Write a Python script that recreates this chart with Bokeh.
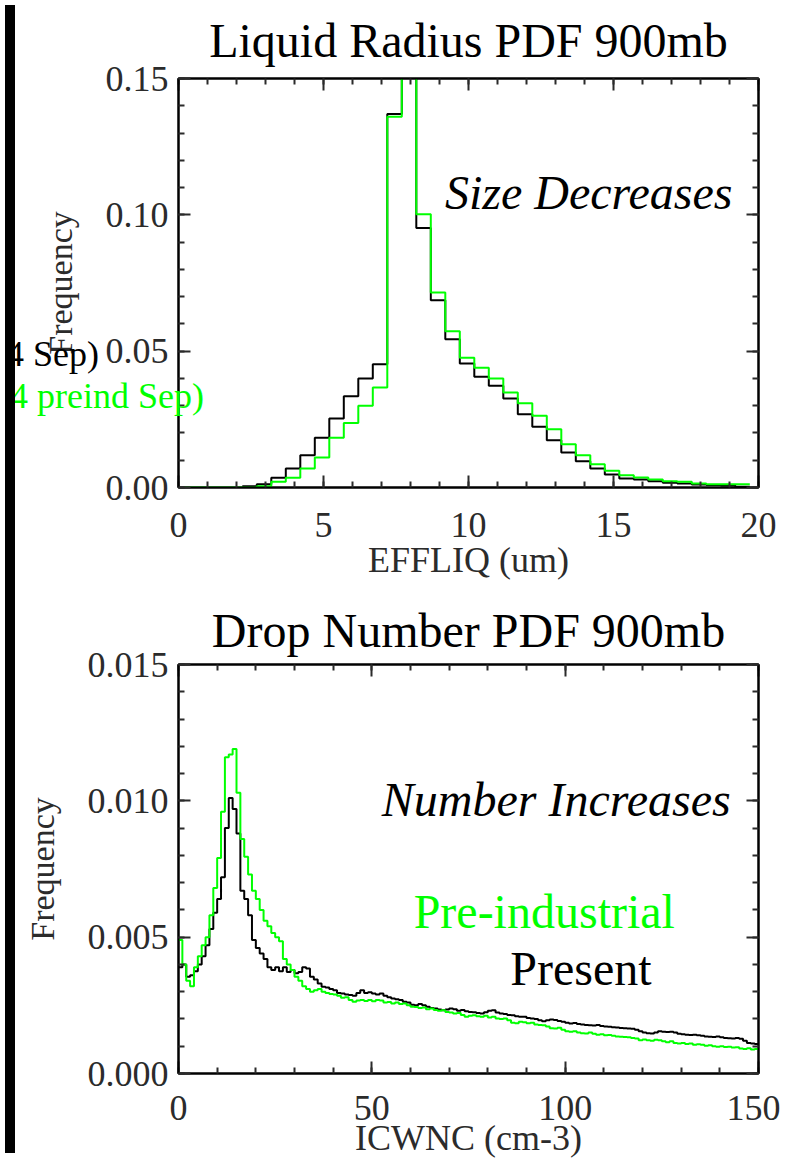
import math
from bokeh.plotting import figure
from bokeh.models import (Range1d, LinearAxis, SingleIntervalTicker, PrintfTickFormatter,
                          CustomJSTickFormatter, Label, Div)
from bokeh.layouts import row, column
from bokeh.embed import file_html
from bokeh.resources import INLINE

NaN = float("nan")

# ---------------- data: Liquid Radius PDF 900mb ----------------
effliq_edges = [0.2, 0.7, 1.2, 1.7, 2.2, 2.7, 3.2, 3.7, 4.2, 4.7, 5.2, 5.7, 6.2, 6.7,
                7.2, 7.7, 8.2, 8.7, 9.2, 9.7, 10.2, 10.7, 11.2, 11.7, 12.2, 12.7, 13.2,
                13.7, 14.2, 14.7, 15.2, 15.7, 16.2, 16.7, 17.2, 17.7, 18.2, 18.7, 19.2, 19.7]
effliq_present = [NaN, NaN, NaN, NaN, 0.0005, 0.0012, 0.0036, 0.0070, 0.0118, 0.0182,
                  0.0253, 0.0335, 0.0400, 0.0452, 0.1370, 0.2100, 0.0952, 0.0687, 0.0544,
                  0.0455, 0.0406, 0.0373, 0.0326, 0.0269, 0.0223, 0.0173, 0.0128, 0.0096,
                  0.0070, 0.0048, 0.0033, 0.0029, 0.0023, 0.0017, 0.0015, 0.0011, 0.0009,
                  0.0007, 0.0003]
effliq_preind = [0.0, 0.0, 0.0, 0.0, 0.0, 0.0005, 0.0021, 0.0036, 0.0070, 0.0110,
                 0.0182, 0.0237, 0.0300, 0.0367, 0.1360, 0.2300, 0.1002, 0.0715, 0.0573,
                 0.0476, 0.0439, 0.0400, 0.0348, 0.0309, 0.0263, 0.0214, 0.0159, 0.0118,
                 0.0085, 0.0061, 0.0045, 0.0037, 0.0029, 0.0023, 0.0021, 0.0015, 0.0012,
                 0.0012, 0.0012]

# ---------------- data: Drop Number PDF 900mb (values in 1e-3) ----------------
icwnc_edges = list(range(0, 151))
icwnc_present_e3 = [
    3.90, 4.00, 3.55, 3.60, 3.75, 4.00, 4.30, 4.70, 5.30, 5.90,
    6.40, 7.20, 9.00, 10.10, 9.70, 8.80, 6.70, 6.40, 5.80, 4.90,
    4.60, 4.40, 4.20, 3.90, 3.80, 3.90, 3.75, 3.90, 3.72, 3.80,
    3.68, 3.72, 3.90, 3.85, 3.55, 3.45, 3.30, 3.18, 3.15, 3.10,
    3.05, 2.95, 2.93, 2.90, 2.88, 2.85, 2.95, 3.05, 2.95, 2.98,
    2.93, 2.90, 2.93, 2.85, 2.80, 2.75, 2.72, 2.70, 2.63, 2.60,
    2.52, 2.50, 2.55, 2.50, 2.45, 2.40, 2.38, 2.35, 2.32, 2.35,
    2.38, 2.36, 2.30, 2.33, 2.28, 2.26, 2.25, 2.22, 2.20, 2.25,
    2.30, 2.32, 2.24, 2.20, 2.18, 2.15, 2.14, 2.10, 2.08, 2.08,
    2.04, 2.02, 2.00, 1.95, 1.92, 1.95, 1.98, 1.96, 1.93, 1.90,
    1.86, 1.83, 1.85, 1.82, 1.80, 1.78, 1.77, 1.76, 1.78, 1.74,
    1.72, 1.71, 1.70, 1.69, 1.67, 1.66, 1.65, 1.64, 1.60, 1.55,
    1.50, 1.48, 1.47, 1.50, 1.55, 1.53, 1.52, 1.53, 1.50, 1.46,
    1.44, 1.42, 1.41, 1.42, 1.40, 1.38, 1.36, 1.35, 1.34, 1.36,
    1.33, 1.30, 1.29, 1.28, 1.30, 1.27, 1.20, 1.12, 1.10, 1.08]
icwnc_preind_e3 = [
    4.90, 4.00, 3.40, 3.20, 3.90, 4.30, 4.70, 5.00, 5.80, 6.80,
    7.90, 9.60, 11.60, 11.70, 11.90, 10.30, 8.60, 7.95, 7.30, 6.70,
    6.40, 6.00, 5.60, 5.40, 5.15, 5.00, 4.85, 4.20, 4.00, 3.80,
    3.55, 3.40, 3.20, 3.10, 3.00, 3.05, 3.10, 3.00, 2.95, 2.92,
    2.90, 2.85, 2.78, 2.80, 2.70, 2.63, 2.68, 2.70, 2.66, 2.70,
    2.65, 2.70, 2.68, 2.60, 2.62, 2.57, 2.60, 2.55, 2.57, 2.50,
    2.45, 2.44, 2.40, 2.42, 2.36, 2.38, 2.33, 2.30, 2.32, 2.26,
    2.24, 2.20, 2.22, 2.15, 2.08, 2.12, 2.14, 2.10, 2.08, 2.12,
    2.05, 2.08, 2.02, 2.00, 2.02, 1.95, 1.86, 1.84, 1.90, 1.88,
    1.84, 1.86, 1.80, 1.78, 1.77, 1.72, 1.66, 1.65, 1.68, 1.60,
    1.55, 1.53, 1.55, 1.50, 1.48, 1.47, 1.50, 1.46, 1.42, 1.44,
    1.40, 1.41, 1.38, 1.36, 1.35, 1.34, 1.33, 1.30, 1.28, 1.22,
    1.25, 1.22, 1.20, 1.24, 1.22, 1.18, 1.15, 1.18, 1.12, 1.10,
    1.12, 1.08, 1.10, 1.05, 1.07, 1.05, 1.02, 1.04, 1.00, 0.98,
    1.00, 0.97, 0.98, 0.95, 0.96, 0.92, 0.90, 0.93, 0.88, 0.90]

# ---------------- styling ----------------
FONT = "Liberation Serif"
GREEN = "#00ff00"
GRAY = "#2b2b2b"


def step_xy(edges, vals):
    xs, ys = [], []
    for i, v in enumerate(vals):
        xs.extend([edges[i], edges[i + 1]])
        ys.extend([v, v])
    return xs, ys


def make_panel(title, xr, yr, xint, yint, yfmt, xlabel, borders, title_standoff,
               xlab_standoff, xaxis_label_standoff):
    bl, br, bt, bb = borders
    p = figure(x_range=Range1d(*xr), y_range=Range1d(*yr),
               frame_width=580, frame_height=409,
               min_border_left=bl, min_border_right=br,
               min_border_top=bt, min_border_bottom=bb,
               output_backend="svg", toolbar_location=None)
    p.xgrid.visible = False
    p.ygrid.visible = False
    p.outline_line_color = "black"
    p.outline_line_width = 2
    p.background_fill_color = "white"
    p.border_fill_color = "white"

    p.title.text = title
    p.title.align = "center"
    p.title.text_font = FONT
    p.title.text_font_size = "48px"
    p.title.text_font_style = "normal"
    p.title.text_color = "black"
    p.title.standoff = title_standoff

    def style(ax, ticker, labels):
        ax.ticker = ticker
        ax.axis_line_color = "black"
        ax.axis_line_width = 2
        ax.major_tick_in = 12
        ax.major_tick_out = 0
        ax.minor_tick_in = 6
        ax.minor_tick_out = 0
        ax.major_tick_line_color = GRAY
        ax.minor_tick_line_color = GRAY
        ax.major_tick_line_width = 2
        ax.minor_tick_line_width = 2
        if labels:
            ax.major_label_text_font = FONT
            ax.major_label_text_font_size = "36px"
            ax.major_label_text_color = GRAY
            ax.axis_label_text_font = FONT
            ax.axis_label_text_font_style = "normal"
            ax.axis_label_text_color = GRAY
        else:
            ax.formatter = CustomJSTickFormatter(code="return ''")
            ax.major_label_text_font_size = "10px"
            ax.major_label_standoff = 0

    style(p.xaxis[0], SingleIntervalTicker(interval=xint, num_minor_ticks=5), True)
    style(p.yaxis[0], SingleIntervalTicker(interval=yint, num_minor_ticks=5), True)
    p.xaxis[0].major_label_standoff = xlab_standoff
    p.xaxis[0].axis_label = xlabel
    p.xaxis[0].axis_label_text_font_size = "36px"
    p.xaxis[0].axis_label_standoff = xaxis_label_standoff
    p.yaxis[0].major_label_standoff = 10
    p.yaxis[0].axis_label = "Frequency"
    p.yaxis[0].axis_label_text_font_size = "34px"
    p.yaxis[0].axis_label_standoff = 24
    p.yaxis[0].formatter = PrintfTickFormatter(format=yfmt)

    top = LinearAxis()
    style(top, SingleIntervalTicker(interval=xint, num_minor_ticks=5), False)
    p.add_layout(top, "above")
    right = LinearAxis()
    style(right, SingleIntervalTicker(interval=yint, num_minor_ticks=5), False)
    p.add_layout(right, "right")
    return p


# ---------------- top panel ----------------
p1 = make_panel("Liquid Radius PDF 900mb", (0, 20), (0, 0.1500001), 5, 0.05, "%.2f",
                "EFFLIQ (um)", (158, 22, 72, 99), 23, 25, 0)
xs, ys = step_xy(effliq_edges, effliq_present)
p1.line(xs, ys, line_color="black", line_width=2)
xs, ys = step_xy(effliq_edges, effliq_preind)
p1.line(xs, ys, line_color=GREEN, line_width=2)

p1.add_layout(Label(x=19.1, y=0.1082, text="Size Decreases", text_align="right",
                    text_baseline="alphabetic", text_font=FONT, text_font_size="48px",
                    text_font_style="italic", text_color="black"))

# ---------------- bottom panel ----------------
p2 = make_panel("Drop Number PDF 900mb", (0, 150), (0, 0.0150001), 50, 0.005, "%.3f",
                "ICWNC (cm-3)", (158, 22, 78, 81), 16, 22, -5)
xs, ys = step_xy(icwnc_edges, [v / 1000.0 for v in icwnc_present_e3])
p2.line(xs, ys, line_color="black", line_width=2)
xs, ys = step_xy(icwnc_edges, [v / 1000.0 for v in icwnc_preind_e3])
p2.line(xs, ys, line_color=GREEN, line_width=2)

p2.add_layout(Label(x=142.8, y=0.01005, text="Number Increases", text_align="right",
                    text_baseline="alphabetic", text_font=FONT, text_font_size="48px",
                    text_font_style="italic", text_color="black"))
p2.add_layout(Label(x=94.6, y=0.00593, text="Pre-industrial", text_align="center",
                    text_baseline="alphabetic", text_font=FONT, text_font_size="48px",
                    text_color=GREEN))
p2.add_layout(Label(x=104.1, y=0.00385, text="Present", text_align="center",
                    text_baseline="alphabetic", text_font=FONT, text_font_size="48px",
                    text_color="black"))

# truncated legend texts of the original page (they spill left of the frame)
def legend_div(txt, color, left, top, width):
    inner = ('<div style="position:absolute;right:0;top:0;white-space:nowrap;'
             'font-family:\'Liberation Serif\';font-size:36px;line-height:36px;'
             'color:%s">%s</div>' % (color, txt))
    return Div(text=inner, width=width, height=44,
               styles={"position": "absolute", "left": "%dpx" % left, "top": "%dpx" % top,
                       "overflow": "hidden", "z-index": "10"})

leg1 = legend_div("4 Sep)", "black", 10, 331, 84)
leg2 = legend_div("4 preind Sep)", GREEN, 10, 373, 189)

band = Div(text="", width=10, height=1148, styles={"background-color": "black"})
layout = row(band, column(p1, p2), leg1, leg2)

open("out.html", "w").write(file_html(layout, INLINE))
